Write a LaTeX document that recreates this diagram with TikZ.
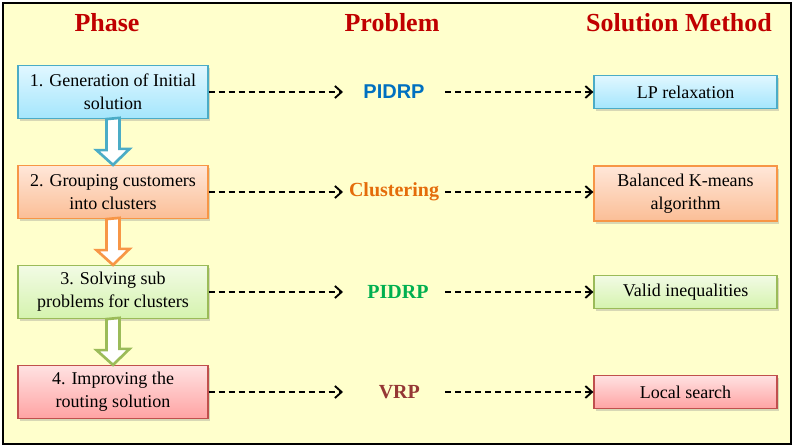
\documentclass[tikz,border=0pt]{standalone}
\usepackage{fontspec}
\setmainfont{Liberation Serif}
\newfontfamily\arialfont{Liberation Sans}
\usetikzlibrary{positioning,shadows,arrows.meta}

\definecolor{bgyellow}{HTML}{FFFFCC}
\definecolor{headred}{HTML}{C00000}
\definecolor{blueline}{HTML}{4BACC6}
\definecolor{bluetop}{HTML}{E1F7FF}
\definecolor{bluebot}{HTML}{A4E6FC}
\definecolor{orangeline}{HTML}{F79646}
\definecolor{orangetop}{HTML}{FFE7D9}
\definecolor{orangebot}{HTML}{FBBE96}
\definecolor{greenline}{HTML}{9BBB59}
\definecolor{greentop}{HTML}{F2FBE5}
\definecolor{greenbot}{HTML}{D5F3AE}
\definecolor{redline}{HTML}{C0504D}
\definecolor{redtop}{HTML}{FFE2E2}
\definecolor{redbot}{HTML}{FFA3A3}
\definecolor{pidrpblue}{HTML}{0070C0}
\definecolor{clusterorange}{HTML}{E46C0A}
\definecolor{pidrpgreen}{HTML}{00B050}
\definecolor{vrpred}{HTML}{953735}

\tikzset{
  frame/.style = {draw = black, line width = 1.5pt, fill = bgyellow},
  header/.style = {font = \fontsize{19.5}{22}\selectfont\bfseries, text = headred},
  phasebox/.style = {draw, line width = 0.9pt, minimum width = 142.5pt,
    minimum height = 39.75pt, align = center,
    font = \fontsize{13.5}{17}\selectfont,
    drop shadow = {shadow xshift = 1.5pt, shadow yshift = -2pt, opacity = 0.3}},
  methodbox/.style = {phasebox, minimum width = 137.25pt, minimum height = 24.75pt},
  bluebox/.style = {draw = blueline, top color = bluetop, bottom color = bluebot},
  orangebox/.style = {draw = orangeline, top color = orangetop, bottom color = orangebot},
  greenbox/.style = {draw = greenline, top color = greentop, bottom color = greenbot},
  redbox/.style = {draw = redline, top color = redtop, bottom color = redbot},
  problem/.style = {font = \fontsize{15}{18}\selectfont\bfseries,
    minimum width = 76.5pt, inner sep = 0pt, outer sep = 0pt},
  flow/.style = {draw, dashed, dash pattern = on 4.5pt off 3pt, line width = 1.4pt,
    -{Straight Barb[length = 5pt, width = 9pt, line width = 1.4pt]}},
  hollow/.style = {fill = white, line width = 2pt, line join = miter}
}

\begin{document}
\begin{tikzpicture} [x = 0.75pt, y = -0.75pt, node distance = 75pt]

\useasboundingbox (0,0) rectangle (797,448);
\draw [frame] (3,3) rectangle (791,444);

\node [header] (phase) at (107,23) {Phase};
\node [header] (problem) at (392,23) {Problem};
\node [header] (method) at (679,23) {Solution Method};

\node [phasebox, bluebox] (ph1) at (113,92) {1. Generation of Initial\\solution};
\node [phasebox, orangebox] (ph2) [below of = ph1] {2. Grouping customers\\into clusters};
\node [phasebox, greenbox] (ph3) [below of = ph2] {3. Solving sub\\problems for clusters};
\node [phasebox, redbox] (ph4) [below of = ph3] {4. Improving the\\routing solution};

\node [problem, text = pidrpblue, font = \arialfont\fontsize{15}{18}\selectfont\bfseries] (pr1) at (394,92) {PIDRP};
\node [problem, text = clusterorange] (pr2) [below of = pr1] {Clustering};
\node [problem, text = pidrpgreen] (pr3) [below of = pr2] {\hspace*{6pt}PIDRP};
\node [problem, text = vrpred] (pr4) [below of = pr3] {\hspace*{8pt}VRP};

\node [methodbox, bluebox] (m1) at (685.5,92) {LP relaxation};
\node [methodbox, orangebox, minimum height = 41.25pt] (m2) at (685.5,193.5) {Balanced K-means\\algorithm};
\node [methodbox, greenbox] (m3) at (685.5,292) {Valid inequalities};
\node [methodbox, redbox] (m4) [below of = m3] {Local search};

% hollow arrows between the phases
\draw [hollow, draw = blueline] (ph1.south) ++(-6.5,0) -- ++(0,31) -- ++(-10,0)
  -- (ph2.north) -- ++(16.5,-16) -- ++(-10,0) -- ++(0,-31) -- cycle;
\draw [hollow, draw = orangeline] (ph2.south) ++(-6.5,0) -- ++(0,31) -- ++(-10,0)
  -- (ph3.north) -- ++(16.5,-16) -- ++(-10,0) -- ++(0,-31) -- cycle;
\draw [hollow, draw = greenline] (ph3.south) ++(-6.5,0) -- ++(0,31) -- ++(-10,0)
  -- (ph4.north) -- ++(16.5,-16) -- ++(-10,0) -- ++(0,-31) -- cycle;

\path (ph1) edge [flow] (pr1);
\path (ph2) edge [flow] (pr2);
\path (ph3) edge [flow] (pr3);
\path (ph4) edge [flow] (pr4);

\path (pr1) edge [flow] (pr1 -| m1.west);
\path (pr2) edge [flow] (pr2 -| m2.west);
\path (pr3) edge [flow] (pr3 -| m3.west);
\path (pr4) edge [flow] (pr4 -| m4.west);

\end{tikzpicture}
\end{document}
